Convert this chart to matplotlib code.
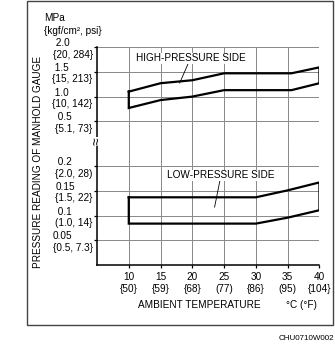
import matplotlib.pyplot as plt
from matplotlib.patches import Rectangle

plt.rcParams['font.family'] = ['Liberation Sans', 'DejaVu Sans']
plt.rcParams['font.size'] = 7.2

# axis ticks / labels
temps = [10, 15, 20, 25, 30, 35, 40]
temps_f = ['{50}', '{59}', '{68}', '(77)', '{86}', '(95)', '{104}']
hi_ticks = [0.5, 1.0, 1.5, 2.0]
hi_labels = [' 0.5\n{5.1, 73}', ' 1.0\n{10, 142}', ' 1.5\n{15, 213}', ' 2.0\n{20, 284}']
lo_ticks = [0.05, 0.1, 0.15, 0.2]
lo_labels = ['0.05\n{0.5, 7.3}', ' 0.1\n(1.0, 14}', '0.15\n{1.5, 22}', ' 0.2\n{2.0, 28)']

# high-pressure band (MPa)
high_t = [10, 15, 20, 25, 35.6, 40]
high_top = [1.10, 1.27, 1.33, 1.47, 1.47, 1.59]
high_bot = [0.77, 0.93, 1.00, 1.13, 1.13, 1.27]

# low-pressure band (MPa)
low_t = [10, 30, 35, 40]
low_top = [0.137, 0.137, 0.151, 0.167]
low_bot = [0.084, 0.084, 0.096, 0.111]

W, H = 335, 345
fig = plt.figure(figsize=(W / 100, H / 100), dpi=100)

ax_hi = fig.add_axes([97 / W, 0.5907, 0.664, 0.2730])
ax_lo = fig.add_axes([97 / W, 0.2310, 0.664, 0.3597])

grid_kw = dict(color='#888888', lw=0.7)

for ax in (ax_hi, ax_lo):
    ax.set_xlim(5, 40)
    ax.set_xticks(temps)
    ax.grid(True, **grid_kw)
    ax.spines['top'].set_visible(False)
    ax.spines['right'].set_visible(False)
    ax.spines['left'].set_linewidth(1.1)
    ax.spines['bottom'].set_linewidth(1.1)
    ax.tick_params(axis='y', direction='out', length=2.5, width=0.9, pad=0.6)
    ax.set_axisbelow(True)

ax_hi.set_ylim(0.1, 2.0)
ax_hi.set_yticks(hi_ticks)
ax_hi.set_yticklabels(hi_labels)
ax_hi.spines['bottom'].set_visible(False)
ax_hi.tick_params(axis='x', length=0, labelbottom=False)

ax_lo.set_ylim(0, 0.25)
ax_lo.set_yticks(lo_ticks)
ax_lo.set_yticklabels(lo_labels)
ax_lo.set_xticklabels([f'{t}\n{f}' for t, f in zip(temps, temps_f)])
ax_lo.tick_params(axis='x', direction='out', length=2.5, width=0.9, pad=2.5)

for ax in (ax_hi, ax_lo):
    for t in ax.get_yticklabels():
        t.set_multialignment('left')

# bands
xs = high_t + high_t[::-1] + [high_t[0]]
ys = high_top + high_bot[::-1] + [high_top[0]]
ax_hi.plot(xs, ys, color='black', lw=1.6, solid_joinstyle='miter')

xs = low_t + low_t[::-1] + [low_t[0]]
ys = low_top + low_bot[::-1] + [low_top[0]]
ax_lo.plot(xs, ys, color='black', lw=1.6, solid_joinstyle='miter')

ax_hi.annotate('HIGH-PRESSURE SIDE', xy=(18.0, 1.27), xytext=(19.7, 1.77),
               ha='center', va='center',
               bbox=dict(fc='white', ec='none', pad=0.5),
               arrowprops=dict(arrowstyle='-', lw=0.6, color='black',
                               shrinkA=0, shrinkB=0))
ax_lo.annotate('LOW-PRESSURE SIDE', xy=(23.5, 0.117), xytext=(24.5, 0.181),
               ha='center', va='center',
               bbox=dict(fc='white', ec='none', pad=0.5),
               arrowprops=dict(arrowstyle='-', lw=0.6, color='black',
                               shrinkA=0, shrinkB=0))

# axis break mark
fig.text(97 / W, 1 - 141.5 / H, '≈', rotation=90, ha='center', va='center',
         fontsize=10, bbox=dict(fc='white', ec='none', pad=0.2))

# labels
fig.text(44 / W, 1 - 18 / H, 'MPa', ha='left', va='center')
fig.text(44 / W, 1 - 31 / H, '{kgf/cm², psi}', ha='left', va='center')
fig.text(38 / W, 1 - 161.5 / H, 'PRESSURE READING OF MANHOLD GAUGE',
         rotation=90, ha='center', va='center')
fig.text(199 / W, 1 - 305 / H, 'AMBIENT TEMPERATURE', ha='center', va='center')
fig.text(286 / W, 1 - 305 / H, '°C (°F)', ha='left', va='center')
fig.text(334 / W, 1 - 339 / H, 'CHU0710W002', ha='right', va='center',
         fontsize=5.8)

# outer frame
fig.patches.append(Rectangle((27 / W, 1 - 325 / H), 306 / W, 324 / H,
                             transform=fig.transFigure, fill=False,
                             ec='#444444', lw=1.0))

fig.savefig('out.png', dpi=100)
